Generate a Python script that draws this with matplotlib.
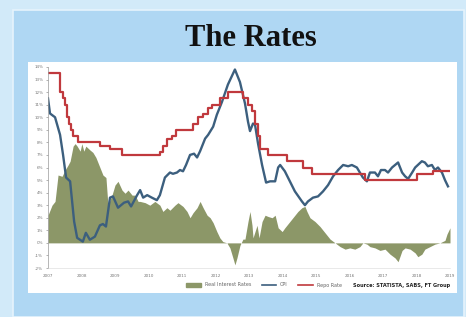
import matplotlib
matplotlib.use("Agg")
import matplotlib.pyplot as plt
from matplotlib.patches import Rectangle, Patch
from matplotlib.lines import Line2D

# repo rate: (date of change, new level)
repo_dates = [2007.00, 2007.36, 2007.45, 2007.51, 2007.57, 2007.63, 2007.69, 2007.75, 2007.90,
              2008.55, 2008.85, 2009.21, 2010.34, 2010.43, 2010.55, 2010.70, 2010.82, 2011.33,
              2011.48, 2011.63, 2011.78, 2011.90, 2012.13, 2012.37, 2012.82, 2012.97, 2013.09,
              2013.18, 2013.27, 2013.33, 2013.57, 2014.13, 2014.61, 2014.88, 2016.46, 2018.01,
              2018.49, 2019.00]
repo_rate = [13.5, 12.0, 11.5, 11.0, 10.0, 9.5, 9.0, 8.5, 8.0,
             7.75, 7.5, 7.0, 7.25, 7.75, 8.25, 8.5, 9.0, 9.5,
             10.0, 10.25, 10.75, 11.0, 11.5, 12.0, 11.5, 11.0, 10.5,
             9.5, 8.5, 7.5, 7.0, 6.5, 6.0, 5.5, 5.0, 5.5,
             5.75, 5.75]

cpi_dates = [2007.00, 2007.06, 2007.21, 2007.36, 2007.45, 2007.54, 2007.66, 2007.72, 2007.78, 2007.87,
             2008.04, 2008.13, 2008.25, 2008.40, 2008.55, 2008.64, 2008.73, 2008.85, 2008.94, 2009.09,
             2009.27, 2009.39, 2009.48, 2009.66, 2009.75, 2009.84, 2009.96, 2010.10, 2010.25, 2010.34,
             2010.49, 2010.64, 2010.73, 2010.85, 2010.94, 2011.03, 2011.12, 2011.24, 2011.36, 2011.45,
             2011.54, 2011.69, 2011.78, 2011.93, 2012.04, 2012.19, 2012.37, 2012.58, 2012.73, 2012.88,
             2012.97, 2013.03, 2013.12, 2013.18, 2013.27, 2013.39, 2013.51, 2013.63, 2013.78, 2013.87,
             2013.93, 2014.07, 2014.22, 2014.37, 2014.58, 2014.67, 2014.76, 2014.91, 2015.06, 2015.21,
             2015.36, 2015.51, 2015.66, 2015.81, 2015.96, 2016.07, 2016.22, 2016.31, 2016.40, 2016.52,
             2016.61, 2016.76, 2016.85, 2016.94, 2017.06, 2017.15, 2017.27, 2017.36, 2017.45, 2017.57,
             2017.66, 2017.75, 2017.87, 2017.96, 2018.04, 2018.16, 2018.25, 2018.34, 2018.46, 2018.55,
             2018.64, 2018.76, 2018.85, 2018.94]
cpi = [11.5, 10.3, 10.0, 8.6, 7.0, 5.2, 4.9, 3.3, 1.7, 0.4,
       0.1, 0.8, 0.25, 0.5, 1.4, 1.5, 1.3, 3.6, 3.7, 2.8,
       3.2, 3.3, 2.9, 3.8, 4.2, 3.6, 3.8, 3.6, 3.4, 3.8,
       5.2, 5.6, 5.5, 5.6, 5.8, 5.7, 6.2, 7.0, 7.1, 6.8,
       7.3, 8.3, 8.6, 9.25, 10.2, 11.2, 12.6, 13.8, 12.8, 11.1,
       9.65, 8.9, 9.5, 9.4, 7.9, 6.2, 4.8, 4.9, 4.9, 6.0,
       6.2, 5.7, 4.9, 4.1, 3.3, 3.0, 3.3, 3.6, 3.7, 4.1,
       4.6, 5.3, 5.8, 6.2, 6.1, 6.2, 6.0, 5.6, 5.2, 4.9,
       5.6, 5.6, 5.3, 5.8, 5.8, 5.6, 6.0, 6.2, 6.4, 5.6,
       5.3, 5.1, 5.6, 6.0, 6.2, 6.5, 6.4, 6.1, 6.2, 5.8,
       6.0, 5.6, 5.0, 4.5]

real_dates = [2007.00, 2007.12, 2007.21, 2007.30, 2007.42, 2007.51, 2007.60, 2007.66, 2007.75, 2007.81,
              2007.87, 2007.96, 2008.01, 2008.07, 2008.13, 2008.25, 2008.34, 2008.43, 2008.55, 2008.64,
              2008.73, 2008.79, 2008.91, 2009.00, 2009.09, 2009.21, 2009.30, 2009.39, 2009.51, 2009.60,
              2009.69, 2009.75, 2009.90, 2010.04, 2010.19, 2010.34, 2010.43, 2010.55, 2010.64, 2010.79,
              2010.88, 2011.03, 2011.15, 2011.24, 2011.33, 2011.45, 2011.54, 2011.63, 2011.75, 2011.84,
              2011.93, 2012.04, 2012.13, 2012.22, 2012.34, 2012.43, 2012.52, 2012.58, 2012.64, 2012.73,
              2012.82, 2012.88, 2012.97, 2013.03, 2013.09, 2013.12, 2013.18, 2013.24, 2013.30, 2013.39,
              2013.48, 2013.57, 2013.69, 2013.78, 2013.87, 2013.99, 2014.07, 2014.22, 2014.37, 2014.46,
              2014.58, 2014.67, 2014.73, 2014.82, 2014.97, 2015.12, 2015.27, 2015.42, 2015.57, 2015.72,
              2015.87, 2016.01, 2016.16, 2016.31, 2016.40, 2016.52, 2016.61, 2016.76, 2016.91, 2017.06,
              2017.21, 2017.36, 2017.45, 2017.57, 2017.66, 2017.81, 2017.96, 2018.04, 2018.16, 2018.25,
              2018.40, 2018.55, 2018.70, 2018.85, 2018.91, 2019.00]
real_rate = [2.2, 3.0, 3.3, 5.4, 5.3, 5.8, 6.2, 6.5, 7.7, 7.9,
             7.7, 7.3, 7.9, 7.3, 7.7, 7.4, 7.2, 6.8, 6.0, 5.4,
             5.2, 3.0, 3.8, 4.6, 4.9, 4.2, 3.95, 4.2, 3.8, 3.8,
             3.3, 3.3, 3.2, 3.0, 3.3, 3.0, 2.5, 2.8, 2.6, 3.0,
             3.2, 2.9, 2.5, 2.0, 2.4, 2.8, 3.3, 2.8, 2.2, 2.0,
             1.6, 0.9, 0.4, 0.1, 0.0, -0.4, -1.2, -1.75, -1.2, -0.2,
             0.3, 0.3, 1.7, 2.5, 1.4, 0.4, 0.9, 1.4, 0.4, 1.7,
             2.2, 2.1, 2.0, 2.2, 1.2, 0.9, 1.2, 1.7, 2.2, 2.5,
             2.8, 2.9, 2.5, 2.0, 1.7, 1.3, 0.8, 0.3, 0.0, -0.3,
             -0.5, -0.4, -0.5, -0.3, 0.0, -0.1, -0.3, -0.4, -0.6, -0.5,
             -0.9, -1.2, -1.5, -0.6, -0.4, -0.5, -0.8, -1.1, -0.9, -0.5,
             -0.3, -0.1, 0.0, 0.2, 0.7, 1.2]

years = list(range(2007, 2020))
y_ticks = list(range(-2, 15))

olive = "#8c9768"
blue = "#3c5f7e"
red = "#c0393d"

fig = plt.figure(figsize=(4.66, 3.17), dpi=100)
fig.patch.set_facecolor("#d2eaf9")

# panel and white chart box, kept under the axes
fig.patches.append(Rectangle((13 / 466, 0), 451 / 466, 1 - 10 / 317, transform=fig.transFigure,
                             facecolor="#afd7f3", edgecolor="#e6f3fc", lw=1.2, zorder=-2))
fig.patches.append(Rectangle((28 / 466, 1 - 293 / 317), 429 / 466, 231 / 317, transform=fig.transFigure,
                             facecolor="white", edgecolor="none", zorder=-1))

fig.text(251 / 466, 1 - 38 / 317, "The Rates", ha="center", va="center",
         family="Liberation Serif", weight="bold", fontsize=22, color="#111111")

ax = fig.add_axes([48 / 466, 1 - 268 / 317, 402 / 466, 201 / 317])
ax.set_facecolor("none")

ax.fill_between(real_dates, real_rate, 0, color=olive, lw=0)
ax.plot(cpi_dates, cpi, color=blue, lw=1.7)
ax.plot(repo_dates, repo_rate, color=red, lw=1.6, drawstyle="steps-post")

ax.set_xlim(2007, 2019)
ax.set_ylim(-2, 14)
ax.set_yticks(y_ticks)
ax.set_yticklabels([f"{v}%" for v in y_ticks])
ax.set_xticks(years)
ax.set_xticklabels([str(y) for y in years])
ax.tick_params(axis="both", labelsize=3, colors="#777777", length=1.5, width=0.4, pad=2)
ax.tick_params(axis="x", length=0, pad=4)

for s in ["top", "right"]:
    ax.spines[s].set_visible(False)
ax.spines["left"].set_color("#9a9a9a")
ax.spines["left"].set_linewidth(0.5)
ax.spines["bottom"].set_color("#d9d9d9")
ax.spines["bottom"].set_linewidth(0.4)

handles = [Patch(color=olive, label="Real Interest Rates"),
           Line2D([], [], color=blue, lw=1.2, label="CPI"),
           Line2D([], [], color=red, lw=1.2, label="Repo Rate")]
fig.legend(handles=handles, loc="center", bbox_to_anchor=(264 / 466, 1 - 285 / 317), ncol=3,
           fontsize=3.5, frameon=False, handlelength=3, handleheight=0.8, columnspacing=2.2,
           labelcolor="#666666")

fig.text(450 / 466, 1 - 285 / 317, "Source: STATISTA, SABS, FT Group", ha="right", va="center",
         fontsize=3.6, weight="bold", color="#222222")

fig.savefig("out.png", dpi=100, facecolor=fig.get_facecolor())
